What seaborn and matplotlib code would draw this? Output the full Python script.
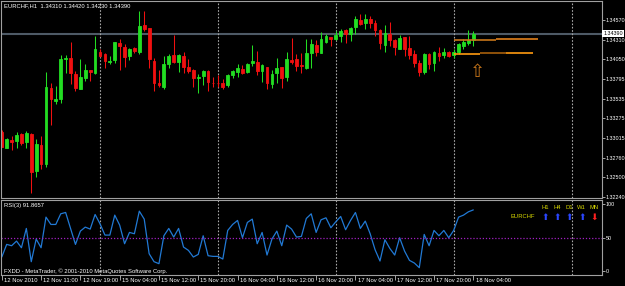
import numpy as np
import pandas as pd
import matplotlib
matplotlib.use("Agg")
import matplotlib.pyplot as plt
import matplotlib.transforms as mtransforms
import seaborn as sns

# EURCHF H1 bars, 12 Nov 03:00 .. 18 Nov 04:00
open_ = [1.33100, 1.32890, 1.32991, 1.32982, 1.33070, 1.32969, 1.33066, 1.32587,
         1.32925, 1.32675, 1.33680, 1.33508, 1.33526, 1.34053, 1.34075, 1.33860,
         1.33666, 1.33811, 1.33908, 1.33877, 1.34149, 1.34118, 1.34018, 1.34044,
         1.34268, 1.34219, 1.34096, 1.34197, 1.34153, 1.34505, 1.34461, 1.34035,
         1.33745, 1.33693, 1.33991, 1.34110, 1.34013, 1.34096, 1.33947, 1.33912,
         1.33802, 1.33833, 1.33899, 1.33745, 1.33745, 1.33745, 1.33710, 1.33842,
         1.33881, 1.33925, 1.33881, 1.34009, 1.34022, 1.33903, 1.33947, 1.33728,
         1.33868, 1.33947, 1.33816, 1.34044, 1.34053, 1.33978, 1.33943, 1.34132,
         1.34241, 1.34140, 1.34285, 1.34342, 1.34320, 1.34364, 1.34439, 1.34386,
         1.34474, 1.34570, 1.34526, 1.34579, 1.34535, 1.34439, 1.34241, 1.34386,
         1.34307, 1.34189, 1.34342, 1.34197, 1.34118, 1.34009, 1.33881, 1.34123,
         1.34009, 1.34140, 1.34105, 1.34153, 1.34110, 1.34145, 1.34228, 1.34263,
         1.34310]
high = [1.33122, 1.33013, 1.33043, 1.33100, 1.33087, 1.33109, 1.33079, 1.33004,
        1.33043, 1.33881, 1.33737, 1.33702, 1.34110, 1.34110, 1.34285, 1.33899,
        1.34057, 1.33991, 1.33917, 1.34364, 1.34184, 1.34140, 1.34096, 1.34285,
        1.34325, 1.34250, 1.34197, 1.34219, 1.34689, 1.34689, 1.34461, 1.34066,
        1.33912, 1.34096, 1.34123, 1.34373, 1.34118, 1.34153, 1.34053, 1.33921,
        1.33860, 1.33912, 1.33912, 1.33824, 1.33842, 1.33789, 1.33860, 1.33912,
        1.33991, 1.33978, 1.34000, 1.34241, 1.34167, 1.33991, 1.33956, 1.33912,
        1.34075, 1.33956, 1.34153, 1.34338, 1.34118, 1.34132, 1.34320, 1.34320,
        1.34307, 1.34408, 1.34382, 1.34351, 1.34430, 1.34447, 1.34447, 1.34483,
        1.34623, 1.34649, 1.34649, 1.34623, 1.34570, 1.34447, 1.34505, 1.34540,
        1.34316, 1.34373, 1.34351, 1.34360, 1.34175, 1.34044, 1.34140, 1.34140,
        1.34162, 1.34219, 1.34197, 1.34167, 1.34184, 1.34263, 1.34316, 1.34439,
        1.34420]
low = [1.32894, 1.32881, 1.32859, 1.32881, 1.32925, 1.32881, 1.32289, 1.32499,
       1.32605, 1.32631, 1.33188, 1.33465, 1.33473, 1.33877, 1.33728, 1.33640,
       1.33658, 1.33767, 1.33772, 1.33855, 1.34088, 1.33943, 1.33991, 1.34009,
       1.33912, 1.33947, 1.34044, 1.34140, 1.34118, 1.34430, 1.33934, 1.33636,
       1.33693, 1.33666, 1.33934, 1.34000, 1.33890, 1.33877, 1.33877, 1.33684,
       1.33614, 1.33715, 1.33640, 1.33684, 1.33693, 1.33662, 1.33684, 1.33802,
       1.33824, 1.33860, 1.33868, 1.33965, 1.33846, 1.33759, 1.33662, 1.33680,
       1.33737, 1.33680, 1.33772, 1.33991, 1.33903, 1.33877, 1.33925, 1.33943,
       1.34096, 1.34132, 1.34272, 1.34228, 1.34307, 1.34276, 1.34272, 1.34298,
       1.34386, 1.34505, 1.34452, 1.34461, 1.34360, 1.34184, 1.34153, 1.34233,
       1.34110, 1.34184, 1.34096, 1.34053, 1.33947, 1.33833, 1.33860, 1.33921,
       1.33899, 1.34035, 1.34066, 1.34088, 1.34066, 1.34123, 1.34184, 1.34241,
       1.34230]
close = [1.32903, 1.33000, 1.32969, 1.33057, 1.32956, 1.33079, 1.32574, 1.32938,
         1.32675, 1.33684, 1.33526, 1.33535, 1.34053, 1.34075, 1.33868, 1.33680,
         1.33824, 1.33912, 1.33886, 1.34184, 1.34101, 1.34031, 1.34035, 1.34276,
         1.34228, 1.34088, 1.34184, 1.34167, 1.34496, 1.34447, 1.34053, 1.33737,
         1.33715, 1.33991, 1.34096, 1.34013, 1.34110, 1.33947, 1.33899, 1.33811,
         1.33824, 1.33903, 1.33754, 1.33737, 1.33737, 1.33693, 1.33842, 1.33899,
         1.33943, 1.33868, 1.33991, 1.34031, 1.33899, 1.33974, 1.33737, 1.33860,
         1.33943, 1.33811, 1.34057, 1.34022, 1.33965, 1.33969, 1.34140, 1.34254,
         1.34153, 1.34320, 1.34360, 1.34316, 1.34369, 1.34430, 1.34386, 1.34461,
         1.34579, 1.34518, 1.34584, 1.34535, 1.34439, 1.34263, 1.34395, 1.34307,
         1.34211, 1.34338, 1.34184, 1.34110, 1.34009, 1.33881, 1.34118, 1.33987,
         1.34145, 1.34101, 1.34153, 1.34096, 1.34145, 1.34250, 1.34276, 1.34307,
         1.34390]
rsi = [21, 40, 38, 45, 35, 64, 14, 48, 35, 81, 70, 70, 86, 88, 64, 40,
       60, 66, 63, 85, 71, 54, 54, 84, 69, 41, 58, 56, 90, 78, 26, 14,
       11, 53, 64, 51, 64, 36, 31, 21, 25, 53, 23, 22, 22, 18, 61, 70,
       76, 50, 73, 78, 41, 58, 24, 48, 60, 38, 69, 63, 51, 52, 79, 86,
       58, 77, 80, 65, 74, 82, 62, 76, 88, 64, 75, 56, 32, 15, 47, 34,
       24, 50, 30, 16, 12, 5, 55, 38, 61, 53, 61, 50, 61, 81, 84, 89,
       91.8657]

time_labels = ["12 Nov 2010", "12 Nov 11:00", "12 Nov 19:00", "15 Nov 04:00",
               "15 Nov 12:00", "15 Nov 20:00", "16 Nov 04:00", "16 Nov 12:00",
               "16 Nov 20:00", "17 Nov 04:00", "17 Nov 12:00", "17 Nov 20:00",
               "18 Nov 04:00"]
label_bars = [0, 8, 16, 24, 32, 40, 48, 56, 64, 72, 80, 88, 96]
separator_bars = [20, 44, 68, 92, 116]
price_ticks = [1.34570, 1.34310, 1.34050, 1.33795, 1.33535, 1.33275,
               1.33015, 1.32760, 1.32500, 1.32240]
rsi_ticks = [0, 50, 100]

# level lines to the right of the last bar: start bar, end bar, price
lvl_start = [92, 100.6, 92, 97.4, 102.7]
lvl_end = [100.6, 109.2, 97.4, 102.7, 108.2]
lvl_price = [1.34312, 1.34320, 1.34123, 1.34132, 1.34140]
lvl_color = ["#c8761a", "#e0801c", "#ff9a10", "#a8600c", "#ff9a10"]
arrow_bar, arrow_price = 96.9, 1.33885

# multi-timeframe trend panel
timeframes = ["H1", "H4", "D1", "W1", "MN"]
trend_up = [True, True, True, True, False]

df = pd.DataFrame({"bar": np.arange(len(close)), "open": open_, "high": high,
                   "low": low, "close": close, "rsi": rsi})
bid = df["close"].iloc[-1]

sns.set_theme(style="ticks", rc={
    "figure.facecolor": "black", "axes.facecolor": "black",
    "axes.edgecolor": "#a0a0a0", "axes.linewidth": 0.8,
    "text.color": "white", "axes.grid": False,
})
plt.rcParams["font.family"] = ["Liberation Sans", "DejaVu Sans"]

W, H = 625, 286
fig = plt.figure(figsize=(W / 100, H / 100), dpi=100)


def box(x0, y0, x1, y1):
    return [x0 / W, 1 - y1 / H, (x1 - x0) / W, (y1 - y0) / H]


def fpos(x, y):
    return x / W, 1 - y / H


ax = fig.add_axes(box(1, 1, 602, 198))
ax2 = fig.add_axes(box(1, 199.5, 602, 275))

fs = 4.2
bull, bear = "#22dd22", "#f01010"
cols = np.where(df["close"] >= df["open"], bull, bear)
ax.vlines(df["bar"], df["low"], df["high"], colors=cols, lw=0.75)
ax.bar(df["bar"], df["close"] - df["open"], bottom=df["open"], width=0.56,
       color=cols, edgecolor=cols, linewidth=0.6)

ax.axhline(bid, color="#4e5a66", lw=1.5, zorder=0.5)
for s, e, p, c in zip(lvl_start, lvl_end, lvl_price, lvl_color):
    ax.hlines(p, s, e, colors=c, lw=1.2)
ax.text(arrow_bar, arrow_price, "\u21e7", color="#c8761a", fontsize=13,
        family="DejaVu Sans", ha="center", va="center")

for a in (ax, ax2):
    for b in separator_bars:
        a.axvline(b, color="#a8a8a8", lw=0.8, ls=(0, (1.5, 1.5)), zorder=0.6)
    a.set_xlim(-0.16, 122.2)
    a.yaxis.tick_right()
    a.tick_params(axis="y", length=2, width=0.6, color="#c0c0c0",
                  labelcolor="white", labelsize=fs - 0.3, pad=0.8)

ax.set_ylim(1.32227, 1.34820)
ax.set_yticks(price_ticks)
ax.set_yticklabels([f"{p:.5f}" for p in price_ticks])
ax.set_xticks([])
ax.text(1.002, bid, f"{bid:.5f}", transform=mtransforms.blended_transform_factory(ax.transAxes, ax.transData),
        ha="left", va="center", fontsize=fs - 0.3, color="black", clip_on=False,
        bbox=dict(boxstyle="square,pad=0.15", fc="white", ec="none"))

sns.lineplot(data=df, x="bar", y="rsi", ax=ax2, color="#2179d4", lw=0.9)
ax2.axhline(50, color="#a020c0", lw=0.9, ls=(0, (1, 1.5)))
ax2.set_ylim(-6, 107.5)
ax2.set_yticks(rsi_ticks)
ax2.set_yticklabels([str(t) for t in rsi_ticks])
ax2.set_xlabel("")
ax2.set_ylabel("")
ax2.set_xticks(label_bars)
ax2.tick_params(axis="x", length=3.5, width=0.6, color="#c0c0c0", labelbottom=False)
ax2.set_xlim(-0.16, 122.2)

tx = mtransforms.blended_transform_factory(ax2.transData, fig.transFigure)
for b, lab in zip(label_bars, time_labels):
    ax2.text(b + 0.45, 1 - 281 / H, lab, transform=tx, ha="left", va="center",
             fontsize=fs, color="white", clip_on=False)

fig.text(*fpos(4, 6), f"EURCHF,H1  {open_[-1]:.5f} {high[-1]:.5f} {low[-1]:.5f} {close[-1]:.5f}",
         fontsize=fs, va="center", color="white")
fig.text(*fpos(4, 205.5), f"RSI(3) {rsi[-1]:.4f}", fontsize=fs, va="center", color="white")
fig.text(*fpos(4, 271), "FXDD - MetaTrader, \u00a9 2001-2010 MetaQuotes Software Corp.",
         fontsize=fs, va="center", color="white")

yellow = "#d8d800"
fig.text(*fpos(535, 216.5), "EURCHF", fontsize=fs, ha="right", va="center", color=yellow)
for k, (tf, up) in enumerate(zip(timeframes, trend_up)):
    x = 545 + 12.3 * k
    fig.text(*fpos(x, 207.5), tf, fontsize=fs, ha="center", va="center", color=yellow)
    fig.text(*fpos(x, 217), "\u2b06" if up else "\u2b07", fontsize=6.5, family="DejaVu Sans",
             ha="center", va="center", color="#2a46ff" if up else "#ff2020")

fig.savefig("out.png", dpi=100, facecolor="black")
